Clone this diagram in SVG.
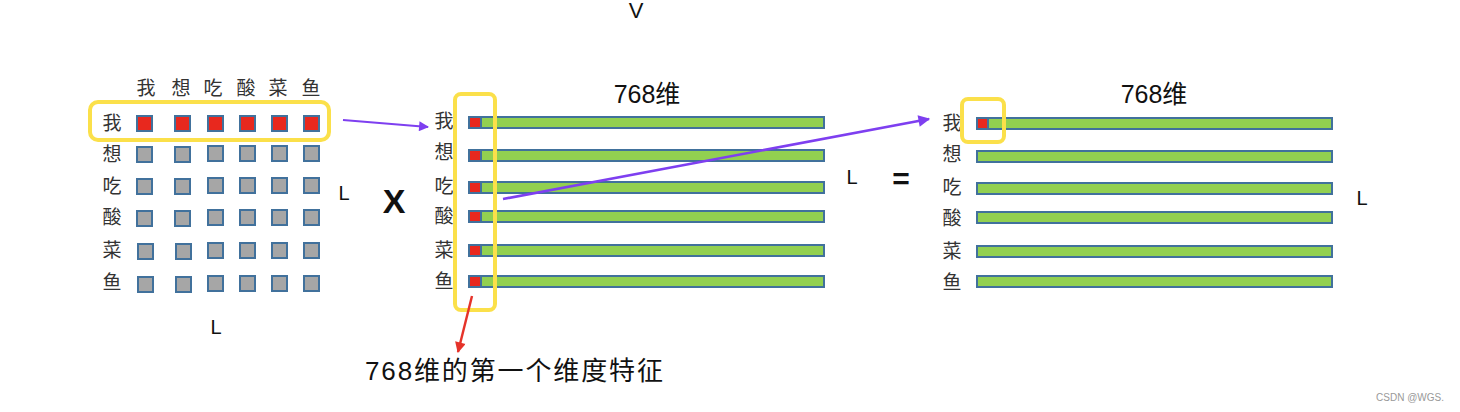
<svg xmlns="http://www.w3.org/2000/svg" width="1460" height="412" viewBox="0 0 1460 412">
<style>
.cj{font-family:"Noto Sans CJK SC",sans-serif;font-size:19px;fill:#333;text-anchor:middle}
.lt{font-family:"Liberation Sans","Noto Sans CJK SC",sans-serif;fill:#111}
.g{fill:#A6A6A6;stroke:#41719C;stroke-width:2}
.r{fill:#E8281E;stroke:#41719C;stroke-width:2}
.bar{fill:#92D050;stroke:#41719C;stroke-width:2}
.hl{fill:none;stroke:#FBE04A;stroke-width:4}
</style>
<defs>
<marker id="ap" viewBox="0 0 10 10" refX="9" refY="5" markerWidth="6.5" markerHeight="4.5" orient="auto" markerUnits="strokeWidth"><path d="M0,0L10,5L0,10z" fill="#7E3FF0"/></marker>
<marker id="ar" viewBox="0 0 10 10" refX="9" refY="5" markerWidth="6" markerHeight="4.5" orient="auto" markerUnits="strokeWidth"><path d="M0,0L10,5L0,10z" fill="#E5332A"/></marker>
</defs>
<rect width="1460" height="412" fill="#fff"/>
<text class="lt" x="636" y="18" font-size="22" text-anchor="middle">V</text>

<g id="matrix">
<text class="cj" y="95"><tspan x="146">我</tspan><tspan x="181">想</tspan><tspan x="213">吃</tspan><tspan x="246">酸</tspan><tspan x="278">菜</tspan><tspan x="311">鱼</tspan></text>
<text class="cj" x="112"><tspan y="130">我</tspan><tspan x="112" y="161">想</tspan><tspan x="112" y="193">吃</tspan><tspan x="112" y="224">酸</tspan><tspan x="112" y="257">菜</tspan><tspan x="112" y="289">鱼</tspan></text>
<g>
<rect class="r" x="137" y="116" width="15" height="15"/><rect class="r" x="175" y="116" width="15" height="15"/><rect class="r" x="208" y="116" width="15" height="15"/><rect class="r" x="240" y="116" width="15" height="15"/><rect class="r" x="272" y="116" width="15" height="15"/><rect class="r" x="304" y="116" width="15" height="15"/>
</g>
<g>
<rect class="g" x="137" y="147" width="15" height="15"/><rect class="g" x="175" y="147" width="15" height="15"/><rect class="g" x="208" y="146" width="15" height="15"/><rect class="g" x="240" y="146" width="15" height="15"/><rect class="g" x="272" y="146" width="15" height="15"/><rect class="g" x="304" y="146" width="15" height="15"/>
<rect class="g" x="137" y="179" width="15" height="15"/><rect class="g" x="175" y="179" width="15" height="15"/><rect class="g" x="208" y="178" width="15" height="15"/><rect class="g" x="240" y="178" width="15" height="15"/><rect class="g" x="272" y="178" width="15" height="15"/><rect class="g" x="304" y="178" width="15" height="15"/>
<rect class="g" x="137" y="211" width="15" height="15"/><rect class="g" x="175" y="211" width="15" height="15"/><rect class="g" x="208" y="210" width="15" height="15"/><rect class="g" x="240" y="210" width="15" height="15"/><rect class="g" x="272" y="210" width="15" height="15"/><rect class="g" x="304" y="210" width="15" height="15"/>
<rect class="g" x="138" y="244" width="15" height="15"/><rect class="g" x="176" y="244" width="15" height="15"/><rect class="g" x="208" y="243" width="15" height="15"/><rect class="g" x="240" y="243" width="15" height="15"/><rect class="g" x="272" y="243" width="15" height="15"/><rect class="g" x="304" y="243" width="15" height="15"/>
<rect class="g" x="138" y="277" width="15" height="15"/><rect class="g" x="176" y="277" width="15" height="15"/><rect class="g" x="208" y="276" width="15" height="15"/><rect class="g" x="240" y="276" width="15" height="15"/><rect class="g" x="272" y="276" width="15" height="15"/><rect class="g" x="304" y="276" width="15" height="15"/>
</g>
<rect class="hl" x="90" y="102" width="239" height="38" rx="8"/>
<text class="lt" x="344" y="200" font-size="20" text-anchor="middle">L</text>
<text class="lt" x="216" y="334" font-size="20" text-anchor="middle">L</text>
</g>

<g id="times"><text class="lt" x="394" y="213" font-size="34" font-weight="bold" text-anchor="middle">X</text></g>

<g id="features">
<text class="lt" x="647" y="103" font-size="25" text-anchor="middle">768维</text>
<text class="cj" x="444"><tspan y="128">我</tspan><tspan x="444" y="159">想</tspan><tspan x="444" y="193">吃</tspan><tspan x="444" y="223">酸</tspan><tspan x="444" y="257">菜</tspan><tspan x="444" y="288">鱼</tspan></text>
<rect class="bar" x="469" y="117" width="355" height="11"/>
<rect class="bar" x="469" y="150" width="355" height="11"/>
<rect class="bar" x="469" y="182" width="355" height="11"/>
<rect class="bar" x="469" y="211" width="355" height="11"/>
<rect class="bar" x="469" y="245" width="355" height="11"/>
<rect class="bar" x="469" y="276" width="355" height="11"/>
<rect class="r" x="469" y="117" width="12" height="11"/>
<rect class="r" x="469" y="150" width="12" height="11"/>
<rect class="r" x="469" y="182" width="12" height="11"/>
<rect class="r" x="469" y="211" width="12" height="11"/>
<rect class="r" x="469" y="245" width="12" height="11"/>
<rect class="r" x="469" y="276" width="12" height="11"/>
<rect class="hl" x="455" y="94" width="40" height="216" rx="6"/>
<text class="lt" x="852" y="184" font-size="20" text-anchor="middle">L</text>
</g>

<g id="equals"><text class="lt" x="901" y="189" font-size="30" font-weight="bold" text-anchor="middle">=</text></g>

<g id="result">
<text class="lt" x="1154" y="103" font-size="25" text-anchor="middle">768维</text>
<text class="cj" x="952"><tspan y="130">我</tspan><tspan x="952" y="161">想</tspan><tspan x="952" y="194">吃</tspan><tspan x="952" y="225">酸</tspan><tspan x="952" y="258">菜</tspan><tspan x="952" y="289">鱼</tspan></text>
<rect class="bar" x="977" y="118" width="355" height="11"/>
<rect class="bar" x="977" y="151" width="355" height="11"/>
<rect class="bar" x="977" y="183" width="355" height="11"/>
<rect class="bar" x="977" y="212" width="355" height="11"/>
<rect class="bar" x="977" y="246" width="355" height="11"/>
<rect class="bar" x="977" y="276" width="355" height="11"/>
<rect class="r" x="977" y="118" width="11" height="11"/>
<rect class="hl" x="962" y="99" width="42" height="43" rx="6"/>
<text class="lt" x="1362" y="205" font-size="20" text-anchor="middle">L</text>
</g>

<g id="connectors">
<line x1="343" y1="120" x2="428" y2="127" stroke="#7E3FF0" stroke-width="2.2" marker-end="url(#ap)"/>
<line x1="503" y1="199" x2="929" y2="119" stroke="#7E3FF0" stroke-width="2.6" marker-end="url(#ap)"/>
<line x1="472" y1="296" x2="458" y2="352" stroke="#E5332A" stroke-width="2.4" marker-end="url(#ar)"/>
</g>

<g id="caption"><text class="lt" x="365" y="380" font-size="26" textLength="298" lengthAdjust="spacing">768维的第一个维度特征</text></g>
<text x="1444" y="401" font-family="Liberation Sans,sans-serif" font-size="10" fill="#999" text-anchor="end">CSDN @WGS.</text>
</svg>
